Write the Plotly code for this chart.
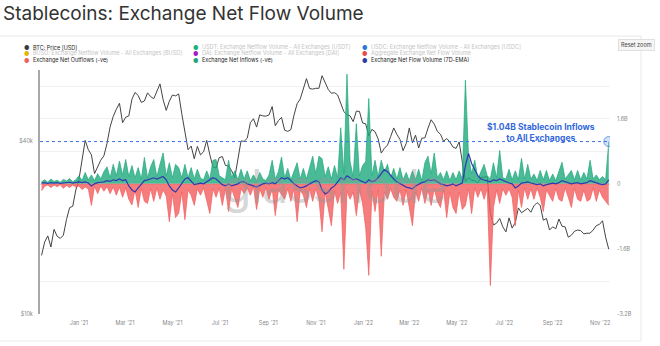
import pandas as pd
import plotly.graph_objects as go

# ---------------- data ----------------
start_date = "2020-11-14"
n_points = 183
dates = pd.date_range(start_date, periods=n_points, freq="4D")

btc_price = [
    16000, 17800, 18700, 17100, 19700, 18650, 18320, 18800, 21300, 23450,
    23700, 27000, 29400, 33900, 40200, 37300, 35800, 30800, 32300, 34300,
    35500, 39200, 44800, 48700, 51600, 54100, 46300, 48400, 48900, 55900,
    59000, 57600, 54500, 55100, 58800, 57100, 56100, 60000, 63200, 55700,
    51100, 55000, 57800, 57400, 58300, 49700, 43500, 37300, 38400, 34700,
    38300, 35800, 36700, 40200, 35800, 32500, 32200, 35000, 35300, 32900,
    32700, 31500, 29800, 34000, 40000, 39900, 40900, 46300, 47800, 44700,
    49300, 48900, 48800, 49300, 52700, 45200, 47100, 48300, 43600, 43200,
    43800, 49200, 53900, 56000, 60900, 65900, 60900, 60600, 61000, 61000,
    67500, 64200, 60400, 58600, 58900, 57800, 53700, 50600, 49400, 48900,
    46700, 50800, 50700, 46200, 45900, 41700, 43900, 43100, 40700, 36300,
    37700, 38700, 41400, 44400, 42200, 40500, 37000, 39200, 44400, 39400,
    41900, 37800, 40900, 41000, 44300, 47400, 45800, 43200, 42200, 39900,
    40800, 39700, 38100, 37700, 39700, 34100, 28900, 29800, 29200, 29100,
    28600, 29800, 29900, 30100, 22500, 20400, 20700, 21500, 20100, 19300,
    21600, 19900, 20800, 23400, 22500, 22900, 23300, 22600, 23800, 24400,
    23900, 21200, 21500, 19600, 20100, 19800, 21400, 20200, 20100, 18500,
    18800, 19400, 19600, 19500, 19000, 19100, 19100, 19600, 20300, 20500,
    21100, 18500, 16800,
]

# billions USD
net_inflows = [
    0.05, 0.10, 0.04, 0.12, 0.06, 0.09, 0.04, 0.11, 0.07, 0.13, 0.05, 0.10,
    0.20, 0.08, 0.28, 0.10, 0.22, 0.08, 0.25, 0.12, 0.30,
    0.42, 0.15, 0.48, 0.20, 0.56, 0.22, 0.60,
    0.18, 0.45, 0.15, 0.40, 0.12, 0.65, 0.15, 0.42,
    0.60, 0.18, 0.48, 0.76, 0.20, 0.52, 0.15, 0.48, 0.40, 0.15,
    0.48, 0.15, 0.40, 0.12, 0.36, 0.14, 0.10, 0.32,
    0.12, 0.58, 0.60, 0.20, 0.15, 0.10, 0.58, 0.15, 0.32, 0.10,
    0.36, 0.12, 0.32, 0.08, 0.22, 0.08, 0.28, 0.12, 0.08, 0.22,
    0.58, 0.12, 0.30, 0.66, 0.15, 0.38, 0.10, 0.32, 0.52, 0.12, 0.38, 0.12, 0.42,
    0.68, 0.25, 0.68, 0.62, 0.18, 0.42, 0.12, 0.45, 0.15,
    1.38, 0.25, 2.70, 0.55, 0.18, 1.48, 0.20, 0.45, 0.55, 2.10, 0.20, 0.58, 0.18,
    0.58, 0.30, 0.48, 0.15, 0.38, 0.12, 0.40, 0.10, 0.28, 0.08, 0.32, 0.10, 0.36, 0.08,
    0.52, 0.68, 0.25, 0.76, 0.15, 0.28, 0.10, 0.32, 0.08, 0.28, 0.10, 0.32, 0.12, 2.55,
    0.68, 0.25, 0.58, 0.12, 0.32, 0.48, 0.20, 0.12, 0.52, 0.15, 0.82, 0.15,
    0.12, 0.36, 0.10, 0.32, 0.10, 0.63, 0.12, 0.48, 0.12, 0.24, 0.08,
    0.33, 0.10, 0.33, 0.08, 0.24, 0.08, 0.28, 0.53, 0.12, 0.22,
    0.33, 0.10, 0.33, 0.10, 0.28, 0.12, 0.58, 0.12, 0.22, 0.10, 0.18, 0.10, 1.04,
]

net_outflows = [
    -0.17, -0.06, -0.03, -0.09, -0.03, -0.07, -0.02, -0.11, -0.04, -0.09, -0.03, -0.08,
    -0.05, -0.14, -0.08, -0.12, -0.53, -0.06, -0.24, -0.05, -0.18,
    -0.07, -0.24, -0.08, -0.28, -0.08, -0.33, -0.10,
    -0.38, -0.52, -0.15, -0.58, -0.12, -0.43, -0.48, -0.12,
    -0.43, -0.10, -0.38, -0.15, -0.30, -0.93, -0.25, -0.83, -0.72, -0.20,
    -0.88, -0.15, -0.28, -0.53, -0.12, -0.28, -0.10, -0.38,
    -0.73, -0.12, -0.33, -0.10, -0.53, -0.12, -0.68, -0.12, -0.33, -0.58,
    -0.12, -0.24, -0.10, -0.28, -0.08, -0.63, -0.12, -0.33, -0.10, -0.38,
    -0.12, -0.78, -0.15, -0.28, -0.38, -0.12, -0.43, -0.12, -0.93, -0.15, -0.28, -0.58, -0.12,
    -0.43, -0.12, -0.38, -1.18, -0.20, -0.58, -1.03, -0.18, -0.48,
    -0.20, -2.10, -0.18, -0.38, -0.20, -0.78, -0.15, -0.48, -1.08, -2.25, -0.18, -0.68, -0.15,
    -1.78, -0.20, -0.38, -0.12, -0.33, -0.43, -0.15, -0.53, -0.15, -0.58, -1.03, -0.20, -0.43, -0.10,
    -0.48, -0.15, -0.53, -0.12, -0.43, -0.58, -0.15, -0.83, -0.20, -0.58, -0.73, -0.20, -0.63, -0.53,
    -0.12, -0.73, -0.10, -0.33, -0.12, -0.38, -0.12, -2.50, -0.58, -0.15, -0.48, -0.12,
    -0.28, -0.12, -0.33, -1.03, -0.15, -0.58, -0.10, -0.38, -0.12, -0.38, -0.10,
    -0.33, -0.68, -0.15, -0.28, -0.43, -0.12, -0.38, -0.43, -0.10, -0.33,
    -0.58, -0.12, -0.38, -0.43, -0.15, -0.43, -0.38, -0.10, -0.43, -0.15, -0.33, -0.43, -0.53,
]

net_flow_ema = [
    0.02, 0.03, 0.01, 0.03, 0.02, 0.03, 0.01, 0.02, 0.03, 0.04, 0.02, 0.03,
    0.05, 0.03, 0.05, 0.02, -0.05, 0.00, 0.03, 0.04, 0.05,
    0.08, 0.06, 0.10, 0.08, 0.12, 0.08, 0.10,
    -0.05, -0.15, -0.20, -0.10, 0.00, 0.08, 0.10, 0.12,
    0.15, 0.12, 0.15, 0.18, 0.10, -0.05, -0.15, -0.20, -0.10, 0.00,
    0.12, 0.15, 0.05, -0.02, 0.00, 0.02, 0.00, 0.05,
    0.08, 0.15, 0.12, 0.05, -0.02, -0.05, 0.00, -0.05, -0.03, 0.00,
    0.05, 0.05, 0.00, -0.02, -0.05, -0.08, -0.03, 0.00, 0.02, 0.00,
    0.03, 0.00, 0.08, 0.15, 0.12, 0.15, 0.08, 0.00, -0.05, -0.10, -0.08, -0.05, 0.00,
    0.05, 0.08, 0.05, -0.15, -0.25, -0.20, -0.10, -0.05, 0.05,
    0.15, 0.10, 0.20, 0.15, 0.10, 0.12, 0.08, 0.05, 0.02, 0.10, 0.05, 0.08, 0.15,
    0.25, 0.35, 0.30, 0.20, 0.12, 0.05, 0.00, -0.05, -0.08, -0.10, -0.12, -0.05, 0.00, 0.03,
    0.05, 0.10, 0.08, 0.10, 0.05, 0.00, -0.02, -0.05, -0.03, 0.00, -0.05, -0.02, 0.02, 0.45,
    0.75, 0.50, 0.35, 0.20, 0.12, 0.10, 0.08, 0.05, 0.10, 0.08, 0.12, 0.08,
    0.05, 0.02, 0.00, -0.10, -0.05, 0.02, 0.03, 0.05, 0.02, 0.00, -0.02,
    0.00, -0.05, -0.02, 0.00, 0.02, 0.00, 0.03, 0.08, 0.05, 0.02,
    0.00, 0.02, 0.03, 0.00, 0.02, 0.03, 0.08, 0.05, 0.02, 0.00, -0.02, 0.00, 0.10,
]

highlight_value = 1.04  # $1.04B inflow, last day

price_tickvals = [10000, 40000]
price_ticktext = ["$10k", "$40k"]
flow_tickvals = [-3.2, -2.4, -1.6, -0.8, 0, 0.8, 1.6, 2.4]
flow_ticktext = ["-3.2B", "", "-1.6B", "", "0", "", "1.6B", ""]

legend_entries = [
    # (column x px, row y px, dot colour, label, text colour)
    (26, 47, "#3a3a3a", "BTC: Price [USD]", "#222222"),
    (26, 53.5, "#e3b505", "BUSD: Exchange Netflow Volume - All Exchanges [BUSD]", "#c4c4c4"),
    (26, 60, "#f0605d", "Exchange Net Outflows (-ve)", "#222222"),
    (195, 47, "#22b07d", "USDT: Exchange Netflow Volume - All Exchanges [USDT]", "#c4c4c4"),
    (195, 53.5, "#a21fc4", "DAI: Exchange Netflow Volume - All Exchanges [DAI]", "#c4c4c4"),
    (195, 60, "#1fa57a", "Exchange Net Inflows (-ve)", "#222222"),
    (364.5, 47, "#2f74d8", "USDC: Exchange Netflow Volume - All Exchanges [USDC]", "#c4c4c4"),
    (364.5, 53.5, "#e84a4a", "Aggregate Exchange Net Flow Volume", "#c4c4c4"),
    (364.5, 60, "#2e3aa6", "Exchange Net Flow Volume (7D-EMA)", "#222222"),
]

assert len(btc_price) == n_points
assert len(net_inflows) == n_points
assert len(net_outflows) == n_points
assert len(net_flow_ema) == n_points

# ---------------- layout geometry ----------------
W, H = 660, 346
ML, MR, MT, MB = 40, 50, 70, 32
PW, PH = W - ML - MR, H - MT - MB


def px(x):
    return (x - ML) / PW


def py(y):
    return (H - MB - y) / PH


FONT = "Inter, Roboto, 'Open Sans', sans-serif"

fig = go.Figure()

fig.add_trace(go.Scatter(
    x=dates, y=net_inflows, yaxis="y2", mode="lines",
    line=dict(color="#1ea97c", width=0.7), fill="tozeroy",
    fillcolor="rgba(30,169,124,0.8)", name="Exchange Net Inflows (-ve)",
))
fig.add_trace(go.Scatter(
    x=dates, y=net_outflows, yaxis="y2", mode="lines",
    line=dict(color="#f25c5c", width=0.7), fill="tozeroy",
    fillcolor="rgba(242,92,92,0.8)", name="Exchange Net Outflows (-ve)",
))
fig.add_trace(go.Scatter(
    x=dates, y=btc_price, yaxis="y", mode="lines",
    line=dict(color="#444444", width=1), name="BTC: Price [USD]",
))
fig.add_trace(go.Scatter(
    x=dates, y=net_flow_ema, yaxis="y2", mode="lines",
    line=dict(color="#3338b0", width=1.2), name="Exchange Net Flow Volume (7D-EMA)",
))
fig.add_trace(go.Scatter(
    x=[dates[-1]], y=[highlight_value], yaxis="y2", mode="markers",
    marker=dict(size=10, color="rgba(120,170,240,0.35)",
                line=dict(color="rgba(90,140,225,0.8)", width=1)),
))

fig.add_shape(type="line", xref="paper", x0=0, x1=1, yref="y2",
              y0=highlight_value, y1=highlight_value,
              line=dict(color="#3c74ec", width=1, dash="dot"))
fig.add_shape(type="line", xref="paper", x0=0, x1=1, yref="y2", y0=0, y1=0,
              line=dict(color="#f06a6a", width=0.8), layer="below")

# panel border
fig.add_shape(type="rect", xref="paper", yref="paper",
              x0=px(-2), x1=px(641), y0=py(341), y1=py(36),
              line=dict(color="#e8e8e8", width=1), layer="below")

annotations = [
    dict(text="Stablecoins: Exchange Net Flow Volume", x=px(1), y=py(14),
         xanchor="left", yanchor="middle",
         font=dict(family=FONT, size=19, color="#333333")),
    dict(text="glassnode", x=px(335), y=py(186), xanchor="center", yanchor="middle",
         font=dict(family=FONT, size=46, color="rgba(150,150,150,0.4)")),
    dict(text="<b>$1.04B Stablecoin Inflows<br>to All Exchanges</b>", x=px(541), y=py(132),
         xanchor="center", yanchor="middle", align="center",
         font=dict(family=FONT, size=8.5, color="#3467dc")),
    dict(text="Reset zoom", x=px(636), y=py(45.5), xanchor="center", yanchor="middle",
         font=dict(family=FONT, size=5.5, color="#444"),
         bgcolor="#f5f5f5", bordercolor="#e0e0e0", borderwidth=1, borderpad=2),
]
for cx, ry, dot, label, tcol in legend_entries:
    annotations.append(dict(text="●", x=px(cx), y=py(ry), xanchor="center", yanchor="middle",
                            font=dict(family=FONT, size=6, color=dot)))
    annotations.append(dict(text=label, x=px(cx + 4.5), y=py(ry), xanchor="left",
                            yanchor="middle",
                            font=dict(family=FONT, size=5.5, color=tcol)))
for a in annotations:
    a.update(xref="paper", yref="paper", showarrow=False)

fig.update_layout(
    width=W, height=H, autosize=False,
    margin=dict(l=ML, r=MR, t=MT, b=MB),
    paper_bgcolor="white", plot_bgcolor="white",
    showlegend=False,
    font=dict(family=FONT, size=5.5, color="#888"),
    xaxis=dict(type="date", range=["2020-11-12", "2022-11-13 14:00"],
               tick0="2021-01-01", dtick="M2", tickformat="%b '%y",
               showgrid=False, zeroline=False, showline=False, ticks="",
               ticklabelstandoff=4,
               tickfont=dict(size=5.5, color="#888")),
    yaxis=dict(type="log", range=[4, 4.849], tickvals=price_tickvals, ticktext=price_ticktext,
               showgrid=False, zeroline=False, showline=True, linecolor="#a8a8a8", linewidth=2,
               ticks="", ticklabelstandoff=4, tickfont=dict(size=5.5, color="#888")),
    yaxis2=dict(overlaying="y", side="right", range=[-3.2, 2.8],
                tickvals=flow_tickvals, ticktext=flow_ticktext,
                showgrid=True, gridcolor="#f1f1f1", gridwidth=1, zeroline=False,
                showline=False, ticks="", ticklabelstandoff=6,
                tickfont=dict(size=5.5, color="#888")),
    annotations=annotations,
)

fig.write_html("out.html")
